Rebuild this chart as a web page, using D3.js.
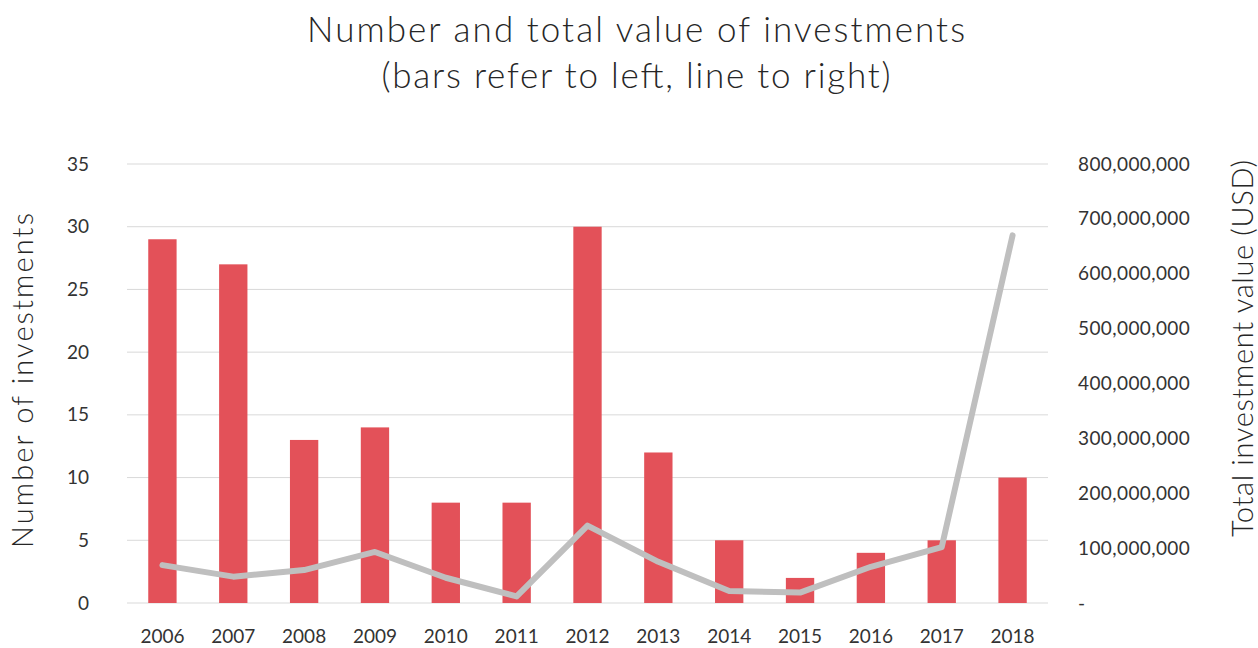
<!DOCTYPE html>
<html>
<head>
<meta charset="utf-8">
<script src="https://cdn.jsdelivr.net/npm/d3@7"></script>
<style>
  body { margin: 0; background: #fff; }
  svg text { font-family: Lato, "Open Sans", sans-serif; font-weight: 300; fill: #262626; }
  svg .tick text { font-weight: 400; fill: #333; }
</style>
</head>
<body>
<svg id="chart" width="1258" height="648"></svg>
<script>
const years = ["2006", "2007", "2008", "2009", "2010", "2011", "2012", "2013", "2014", "2015", "2016", "2017", "2018"];
const investmentCounts = [29, 27, 13, 14, 8, 8, 30, 12, 5, 2, 4, 5, 10];
const investmentValues = [69e6, 48e6, 60e6, 93e6, 46e6, 12e6, 141e6, 75e6, 22e6, 19e6, 66e6, 102e6, 670e6];
const leftTicks = [0, 5, 10, 15, 20, 25, 30, 35];
const rightTicks = [0, 1e8, 2e8, 3e8, 4e8, 5e8, 6e8, 7e8, 8e8];

const svg = d3.select("#chart");
const margin = { top: 164, right: 210, bottom: 45, left: 127 };
const width = 1258, height = 648;
const plotW = width - margin.left - margin.right;
const plotH = height - margin.top - margin.bottom;

const g = svg.append("g").attr("transform", `translate(${margin.left},${margin.top})`);

const x = d3.scaleBand().domain(years).range([0, plotW]).paddingInner(0.6).paddingOuter(0.3);
const yLeft = d3.scaleLinear().domain([0, 35]).range([plotH, 0]);
const yRight = d3.scaleLinear().domain([0, 8e8]).range([plotH, 0]);

// gridlines from left axis
g.append("g")
  .selectAll("line")
  .data(leftTicks)
  .enter().append("line")
  .attr("x1", 0).attr("x2", plotW)
  .attr("y1", d => yLeft(d)).attr("y2", d => yLeft(d))
  .attr("stroke", "#d9d9d9")
  .attr("stroke-width", 1);

// bars
g.append("g")
  .selectAll("rect")
  .data(investmentCounts)
  .enter().append("rect")
  .attr("x", (d, i) => x(years[i]))
  .attr("y", d => yLeft(d))
  .attr("width", x.bandwidth())
  .attr("height", d => plotH - yLeft(d))
  .attr("fill", "#e35159");

// line
const line = d3.line()
  .x((d, i) => x(years[i]) + x.bandwidth() / 2)
  .y(d => yRight(d));

g.append("path")
  .datum(investmentValues)
  .attr("d", line)
  .attr("fill", "none")
  .attr("stroke", "#bfbfbf")
  .attr("stroke-width", 6)
  .attr("stroke-linecap", "round")
  .attr("stroke-linejoin", "round");

// left axis
const leftAxis = g.append("g")
  .attr("transform", "translate(-38,0)")
  .call(d3.axisLeft(yLeft).tickValues(leftTicks).tickSize(0).tickPadding(0));
leftAxis.select(".domain").remove();
leftAxis.selectAll("text").style("font-size", "19px");

// right axis
const rightAxis = g.append("g")
  .attr("transform", `translate(${plotW + 30},0)`)
  .call(d3.axisRight(yRight).tickValues(rightTicks).tickSize(0).tickPadding(0)
    .tickFormat(d => d === 0 ? "-" : d3.format(",")(d)));
rightAxis.select(".domain").remove();
rightAxis.selectAll("text").style("font-size", "19px").style("letter-spacing", "0.4px");

// x axis
const xAxis = g.append("g")
  .attr("transform", `translate(0,${plotH})`)
  .call(d3.axisBottom(x).tickSize(0).tickPadding(27));
xAxis.select(".domain").remove();
xAxis.selectAll("text").style("font-size", "19px");

// titles
svg.append("text")
  .attr("x", 636).attr("y", 42)
  .attr("text-anchor", "middle")
  .attr("textLength", 658)
  .attr("lengthAdjust", "spacing")
  .style("font-size", "35px")
  .text("Number and total value of investments");

svg.append("text")
  .attr("x", 636).attr("y", 88)
  .attr("text-anchor", "middle")
  .attr("textLength", 509)
  .attr("lengthAdjust", "spacing")
  .style("font-size", "35px")
  .text("(bars refer to left, line to right)");

svg.append("text")
  .attr("transform", "translate(33,380.5) rotate(-90)")
  .attr("text-anchor", "middle")
  .attr("textLength", 335)
  .attr("lengthAdjust", "spacing")
  .style("font-size", "29px")
  .text("Number of investments");

svg.append("text")
  .attr("transform", "translate(1253,348.5) rotate(-90)")
  .attr("text-anchor", "middle")
  .attr("textLength", 377)
  .attr("lengthAdjust", "spacing")
  .style("font-size", "29px")
  .text("Total investment value (USD)");
</script>
</body>
</html>
